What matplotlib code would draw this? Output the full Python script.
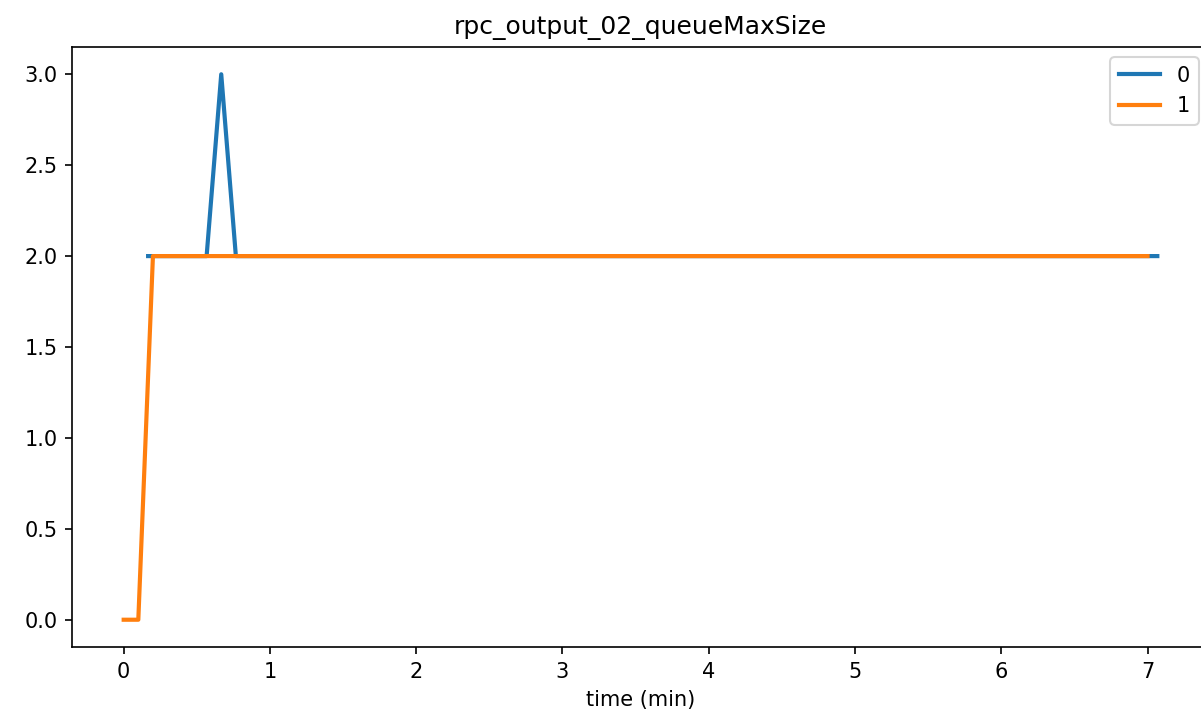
import matplotlib
matplotlib.use("Agg")
import matplotlib.pyplot as plt

# breakpoints of each series (time in minutes, queue max size)
t_series0 = [0.167, 0.567, 0.667, 0.767, 7.067]
v_series0 = [2, 2, 3, 2, 2]

t_series1 = [0.0, 0.1, 0.2, 7.0]
v_series1 = [0, 0, 2, 2]

series_labels = ["0", "1"]
x_ticks = [0, 1, 2, 3, 4, 5, 6, 7]
y_ticks = [0.0, 0.5, 1.0, 1.5, 2.0, 2.5, 3.0]

fig = plt.figure(figsize=(1201 / 150, 723 / 150), dpi=150)
ax = fig.add_axes([72 / 1201, 76 / 723, 1137 / 1201, 600 / 723])

ax.plot(t_series0, v_series0, label=series_labels[0], linewidth=2)
ax.plot(t_series1, v_series1, label=series_labels[1], linewidth=2)

ax.set_xticks(x_ticks)
ax.set_yticks(y_ticks)
ax.set_title("rpc_output_02_queueMaxSize")
ax.set_xlabel("time (min)")
ax.legend(loc="upper right")

fig.savefig("out.png", dpi=150)
